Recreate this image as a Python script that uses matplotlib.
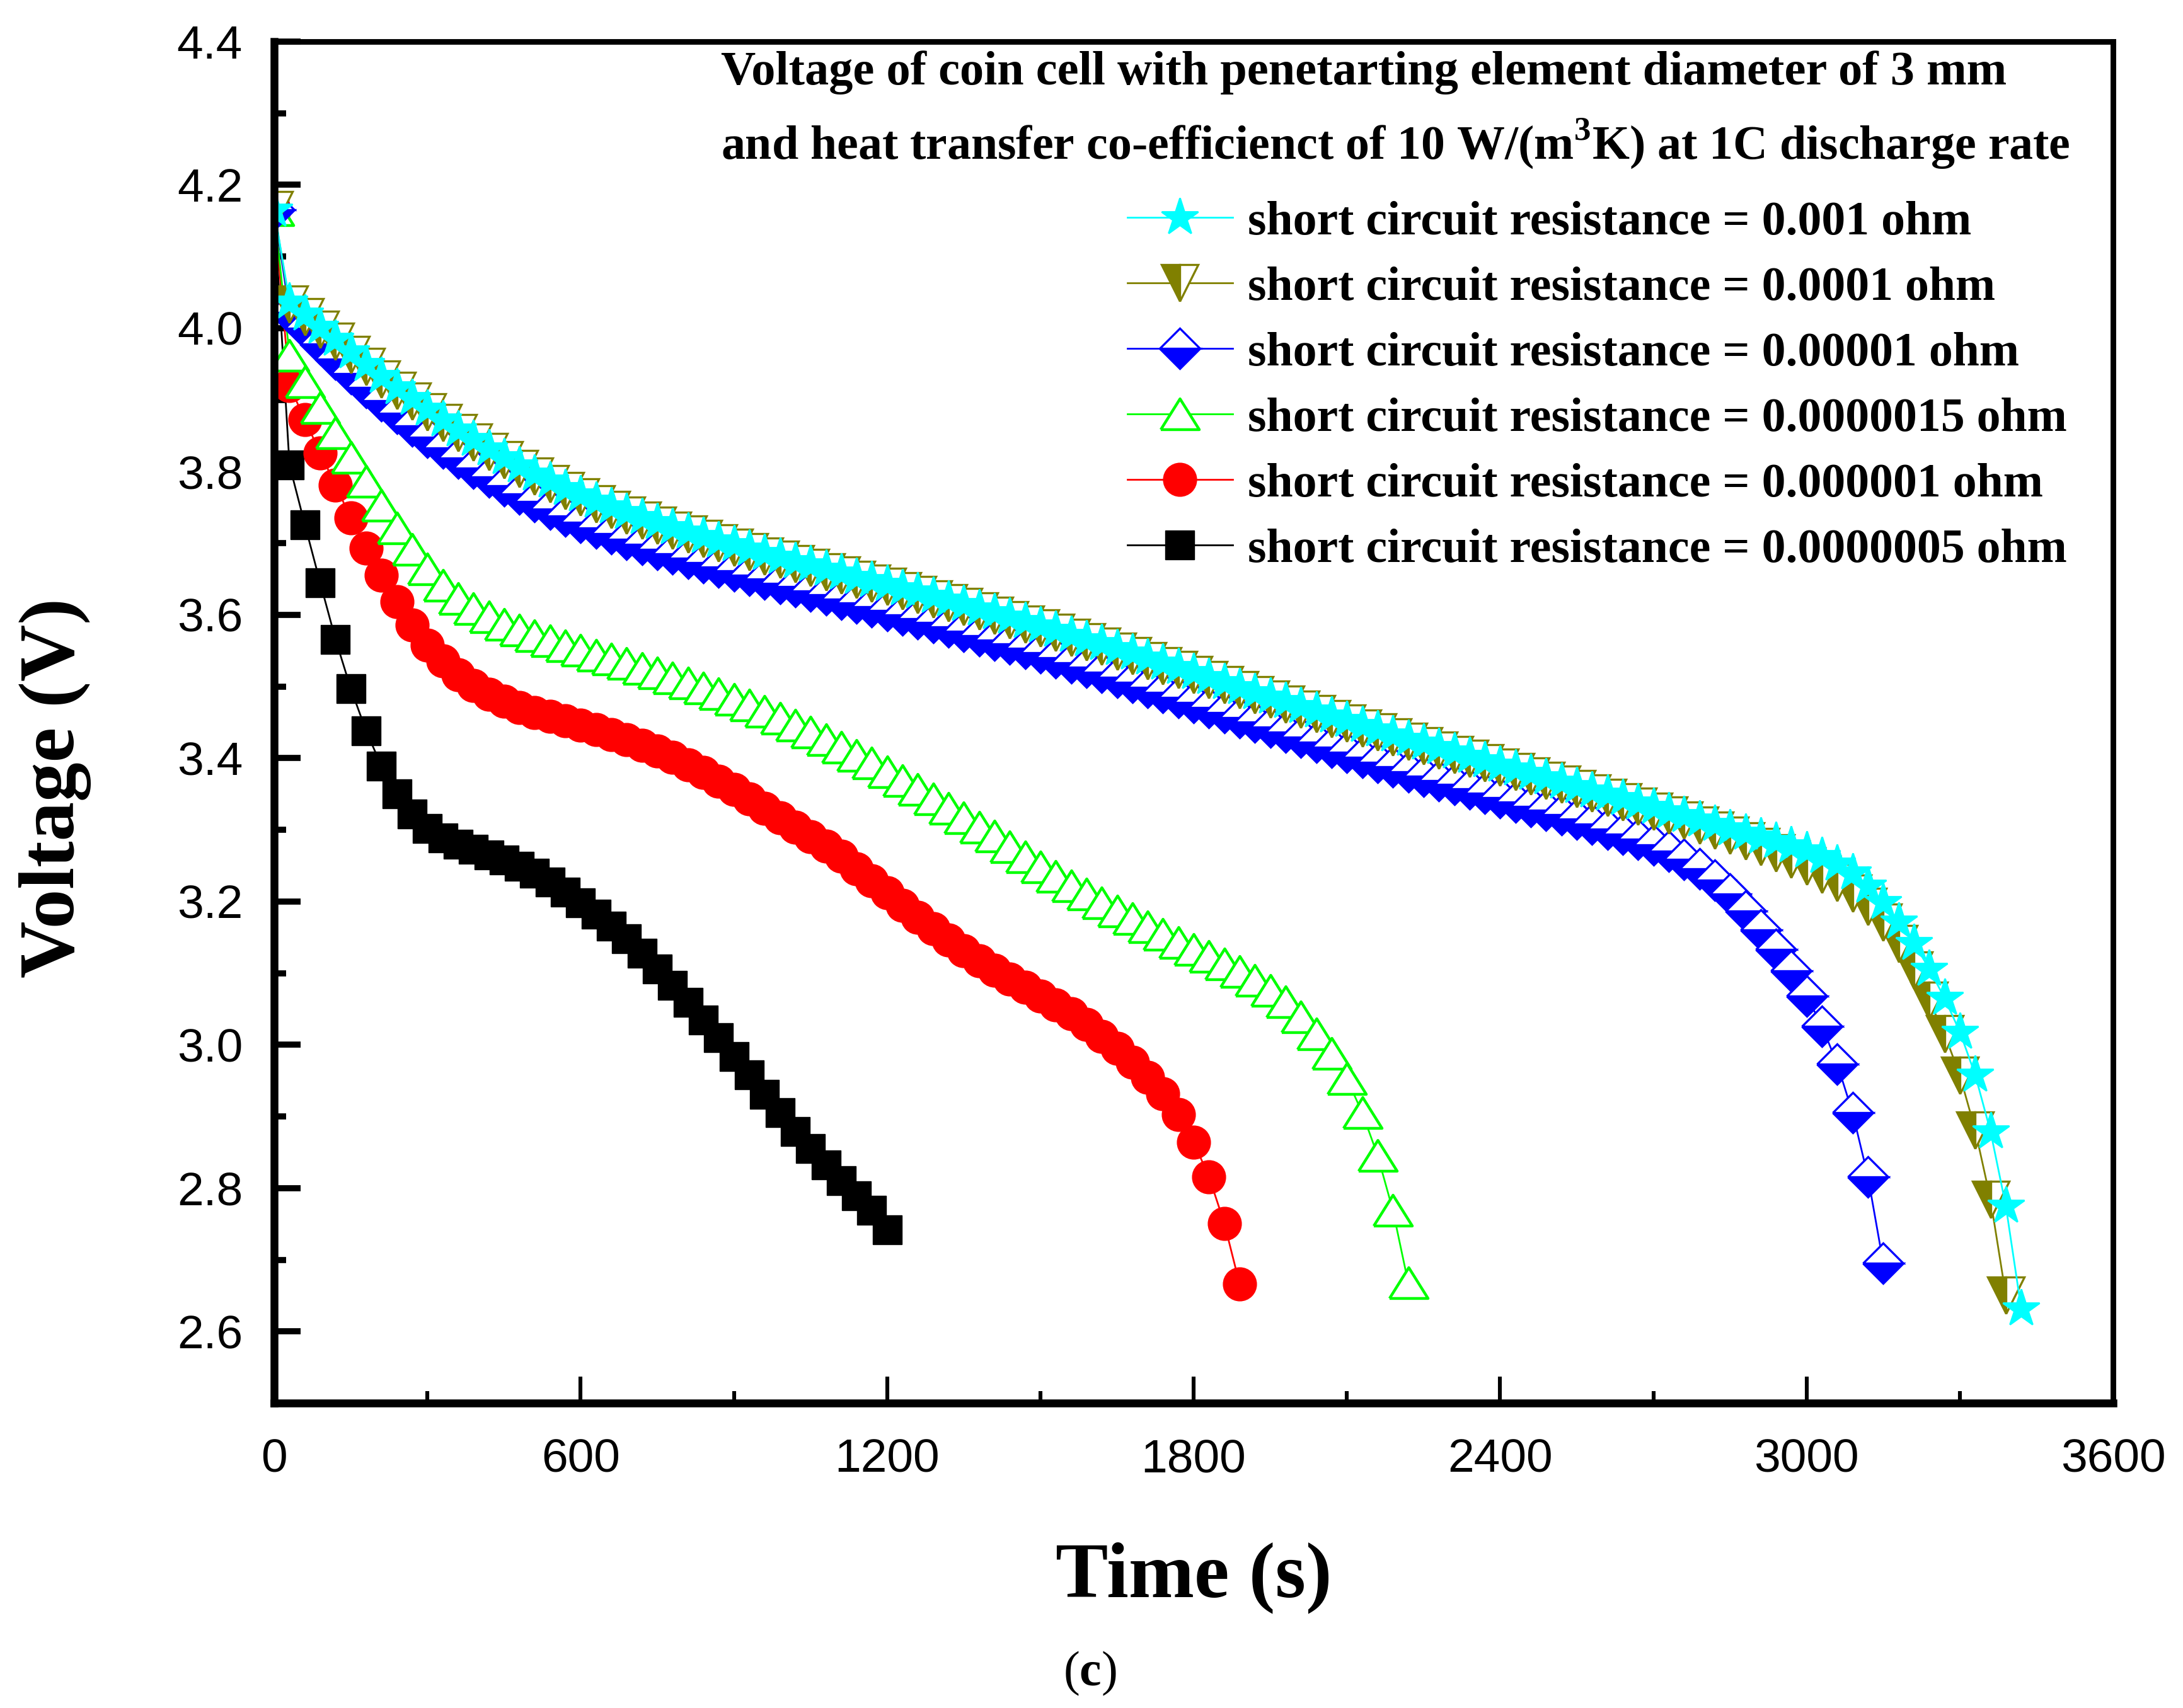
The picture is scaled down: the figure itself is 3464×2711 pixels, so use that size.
import numpy as np
import matplotlib
matplotlib.use('Agg')
import matplotlib.pyplot as plt
from matplotlib.ticker import MultipleLocator, FormatStrFormatter

plt.rcParams['mathtext.fontset'] = 'custom'
plt.rcParams['mathtext.rm'] = 'Liberation Serif:bold'
plt.rcParams['mathtext.bf'] = 'Liberation Serif:bold'

STEP = 30  # seconds between samples, every series starts at t = 0

# voltage (V), one value per sample
V_1E3 = [4.165, 4.037, 4.020, 4.002, 3.985, 3.967, 3.950, 3.933, 3.917, 3.902,
         3.887, 3.872, 3.858, 3.845, 3.832, 3.820, 3.808, 3.797, 3.787, 3.777,
         3.768, 3.759, 3.751, 3.743, 3.736, 3.729, 3.722, 3.716, 3.710, 3.704,
         3.698, 3.692, 3.686, 3.681, 3.675, 3.670, 3.664, 3.659, 3.653, 3.648,
         3.643, 3.637, 3.632, 3.626, 3.621, 3.615, 3.609, 3.603, 3.597, 3.591,
         3.585, 3.579, 3.572, 3.566, 3.560, 3.553, 3.547, 3.540, 3.533, 3.527,
         3.520, 3.513, 3.506, 3.499, 3.492, 3.486, 3.479, 3.472, 3.466, 3.459,
         3.453, 3.446, 3.440, 3.433, 3.427, 3.421, 3.415, 3.409, 3.403, 3.397,
         3.391, 3.385, 3.379, 3.373, 3.367, 3.361, 3.355, 3.350, 3.344, 3.338,
         3.332, 3.326, 3.320, 3.314, 3.308, 3.302, 3.296, 3.290, 3.284, 3.278,
         3.271, 3.263, 3.253, 3.240, 3.222, 3.199, 3.172, 3.142, 3.106, 3.065,
         3.018, 2.958, 2.879, 2.775, 2.632]

V_1E4 = [4.165, 4.033, 4.016, 3.998, 3.981, 3.963, 3.946, 3.929, 3.913, 3.898,
         3.883, 3.868, 3.854, 3.841, 3.828, 3.816, 3.804, 3.793, 3.783, 3.773,
         3.764, 3.755, 3.747, 3.739, 3.732, 3.725, 3.718, 3.712, 3.706, 3.700,
         3.694, 3.688, 3.682, 3.677, 3.671, 3.666, 3.660, 3.655, 3.649, 3.644,
         3.639, 3.633, 3.628, 3.622, 3.617, 3.611, 3.605, 3.599, 3.593, 3.587,
         3.581, 3.575, 3.568, 3.562, 3.556, 3.549, 3.543, 3.536, 3.529, 3.523,
         3.516, 3.509, 3.502, 3.495, 3.488, 3.482, 3.475, 3.468, 3.462, 3.455,
         3.449, 3.442, 3.436, 3.429, 3.423, 3.417, 3.411, 3.405, 3.399, 3.393,
         3.387, 3.381, 3.375, 3.369, 3.363, 3.357, 3.351, 3.345, 3.339, 3.333,
         3.326, 3.320, 3.313, 3.306, 3.299, 3.292, 3.284, 3.276, 3.268, 3.259,
         3.249, 3.238, 3.226, 3.211, 3.193, 3.171, 3.141, 3.104, 3.062, 3.015,
         2.957, 2.881, 2.784, 2.650]

V_1E5 = [4.165, 4.022, 4.000, 3.978, 3.957, 3.937, 3.917, 3.899, 3.881, 3.864,
         3.848, 3.833, 3.819, 3.805, 3.792, 3.780, 3.769, 3.758, 3.748, 3.738,
         3.729, 3.721, 3.713, 3.705, 3.698, 3.691, 3.685, 3.679, 3.673, 3.667,
         3.661, 3.655, 3.650, 3.644, 3.639, 3.633, 3.628, 3.622, 3.617, 3.611,
         3.606, 3.600, 3.595, 3.589, 3.583, 3.577, 3.571, 3.565, 3.559, 3.553,
         3.547, 3.540, 3.533, 3.527, 3.520, 3.513, 3.506, 3.499, 3.492, 3.485,
         3.478, 3.471, 3.464, 3.457, 3.450, 3.443, 3.436, 3.429, 3.422, 3.415,
         3.408, 3.401, 3.394, 3.388, 3.381, 3.375, 3.369, 3.363, 3.357, 3.351,
         3.345, 3.339, 3.333, 3.327, 3.321, 3.315, 3.308, 3.301, 3.294, 3.287,
         3.279, 3.270, 3.259, 3.246, 3.230, 3.210, 3.187, 3.160, 3.133, 3.103,
         3.068, 3.026, 2.973, 2.905, 2.816, 2.695]

V_15E7 = [4.165, 3.962, 3.925, 3.889, 3.854, 3.820, 3.786, 3.753, 3.721, 3.691,
          3.664, 3.641, 3.623, 3.609, 3.597, 3.587, 3.579, 3.571, 3.564, 3.557,
          3.551, 3.544, 3.538, 3.532, 3.525, 3.519, 3.512, 3.505, 3.498, 3.490,
          3.482, 3.474, 3.465, 3.456, 3.446, 3.436, 3.426, 3.415, 3.404, 3.393,
          3.381, 3.369, 3.356, 3.343, 3.330, 3.317, 3.304, 3.291, 3.276, 3.262,
          3.248, 3.235, 3.222, 3.210, 3.198, 3.187, 3.176, 3.165, 3.154, 3.143,
          3.133, 3.123, 3.113, 3.102, 3.090, 3.076, 3.060, 3.039, 3.015, 2.988,
          2.953, 2.905, 2.846, 2.769, 2.668]

V_1E6 = [4.165, 3.920, 3.872, 3.826, 3.781, 3.735, 3.693, 3.655, 3.618, 3.586,
         3.558, 3.536, 3.516, 3.501, 3.489, 3.479, 3.471, 3.464, 3.458, 3.452,
         3.446, 3.440, 3.433, 3.426, 3.418, 3.410, 3.401, 3.391, 3.380, 3.368,
         3.356, 3.343, 3.330, 3.317, 3.304, 3.290, 3.277, 3.263, 3.246, 3.229,
         3.212, 3.195, 3.178, 3.162, 3.146, 3.131, 3.117, 3.104, 3.092, 3.080,
         3.068, 3.056, 3.043, 3.028, 3.012, 2.995, 2.976, 2.955, 2.932, 2.903,
         2.864, 2.816, 2.751, 2.666]

V_5E7 = [4.165, 3.809, 3.726, 3.645, 3.566, 3.497, 3.438, 3.389, 3.350, 3.322,
         3.302, 3.289, 3.280, 3.273, 3.265, 3.258, 3.249, 3.239, 3.227, 3.213,
         3.198, 3.182, 3.166, 3.148, 3.128, 3.106, 3.083, 3.059, 3.035, 3.010,
         2.984, 2.958, 2.931, 2.905, 2.879, 2.855, 2.832, 2.810, 2.789, 2.769,
         2.742]

LABELS = ['short circuit resistance = 0.001 ohm',
          'short circuit resistance = 0.0001 ohm',
          'short circuit resistance = 0.00001 ohm',
          'short circuit resistance = 0.0000015 ohm',
          'short circuit resistance = 0.000001 ohm',
          'short circuit resistance = 0.0000005 ohm']

TITLE_1 = 'Voltage of coin cell with penetarting element diameter of 3 mm'
TITLE_2 = r'and heat transfer co-efficienct of 10 W/(m$^{3}$K) at 1C discharge rate'

STYLES = [
    dict(color='#00FFFF', marker='*', markersize=22, markerfacecolor='#00FFFF',
         markeredgecolor='#00FFFF', markeredgewidth=1.0),
    dict(color='#808000', marker='v', markersize=21, fillstyle='left',
         markerfacecolor='#808000', markerfacecoloralt='white',
         markeredgecolor='#808000', markeredgewidth=1.2),
    dict(color='#0000FF', marker='D', markersize=16.5, fillstyle='bottom',
         markerfacecolor='#0000FF', markerfacecoloralt='white',
         markeredgecolor='#0000FF', markeredgewidth=1.2),
    dict(color='#00FF00', marker=[(-1, -0.8), (1, -0.8), (0, 0.8), (-1, -0.8)],
         markersize=22, markerfacecolor='white', markeredgecolor='#00FF00',
         markeredgewidth=1.6),
    dict(color='#FF0000', marker='o', markersize=19, markerfacecolor='#FF0000',
         markeredgecolor='#FF0000', markeredgewidth=0.5),
    dict(color='#000000', marker='s', markersize=16.5, markerfacecolor='#000000',
         markeredgecolor='#000000', markeredgewidth=0.5),
]

SERIF = 'Liberation Serif'
SANS = 'Liberation Sans'


def main():
    data = [V_1E3, V_1E4, V_1E5, V_15E7, V_1E6, V_5E7]

    fig = plt.figure(figsize=(17.32, 13.555), dpi=200)
    ax = fig.add_axes([0.1256, 0.1785, 0.8424, 0.7972])

    # draw lowest-resistance curve first so the 0.001 ohm stars end up on top
    handles = [None] * len(data)
    for i in reversed(range(len(data))):
        v = np.array(data[i])
        t = np.arange(len(v)) * STEP
        h, = ax.plot(t, v, linestyle='-', linewidth=1.0, label=LABELS[i], **STYLES[i])
        handles[i] = h

    ax.set_xlim(0, 3600)
    ax.set_ylim(2.5, 4.4)
    ax.xaxis.set_major_locator(MultipleLocator(600))
    ax.xaxis.set_minor_locator(MultipleLocator(300))
    ax.yaxis.set_major_locator(MultipleLocator(0.2))
    ax.yaxis.set_minor_locator(MultipleLocator(0.1))
    ax.yaxis.set_major_formatter(FormatStrFormatter('%.1f'))

    ax.tick_params(which='both', direction='in', top=False, right=False)
    ax.tick_params(axis='y', which='major', length=15, width=3.5, pad=18)
    ax.tick_params(axis='y', which='minor', length=7, width=3.5)
    ax.tick_params(axis='x', which='major', length=15, width=2.2, pad=20)
    ax.tick_params(axis='x', which='minor', length=7, width=2.2)
    for lab in ax.get_xticklabels() + ax.get_yticklabels():
        lab.set_fontfamily(SANS)
        lab.set_fontsize(27)

    for side in ['left', 'bottom']:
        ax.spines[side].set_linewidth(4.5)
    for side in ['top', 'right']:
        ax.spines[side].set_linewidth(3.2)

    ax.set_xlabel('Time (s)', family=SERIF, weight='bold', fontsize=45)
    ax.set_ylabel('Voltage (V)', family=SERIF, weight='bold', fontsize=45)
    ax.xaxis.set_label_coords(0.5, -0.102)
    ax.yaxis.set_label_coords(-0.0995, 0.452)

    ax.text(0.243, 0.977, TITLE_1, transform=ax.transAxes, ha='left', va='center',
            family=SERIF, weight='bold', fontsize=27.5)
    ax.text(0.243, 0.925, TITLE_2, transform=ax.transAxes, ha='left', va='center',
            family=SERIF, weight='bold', fontsize=27.3)

    ax.legend(handles, LABELS, loc='upper left', bbox_to_anchor=(0.464, 0.883),
              frameon=False, prop=dict(family=SERIF, weight='bold', size=27.3),
              handlelength=2.2, handletextpad=0.315, labelspacing=0.46,
              borderpad=0, borderaxespad=0, numpoints=1)

    fig.text(0.4994, 0.02, r'($\mathbf{c}$)', ha='center', va='center',
             family=SERIF, fontsize=28)

    fig.savefig('out.png', dpi=200)
    print('saved to out.png')


if __name__ == '__main__':
    main()
